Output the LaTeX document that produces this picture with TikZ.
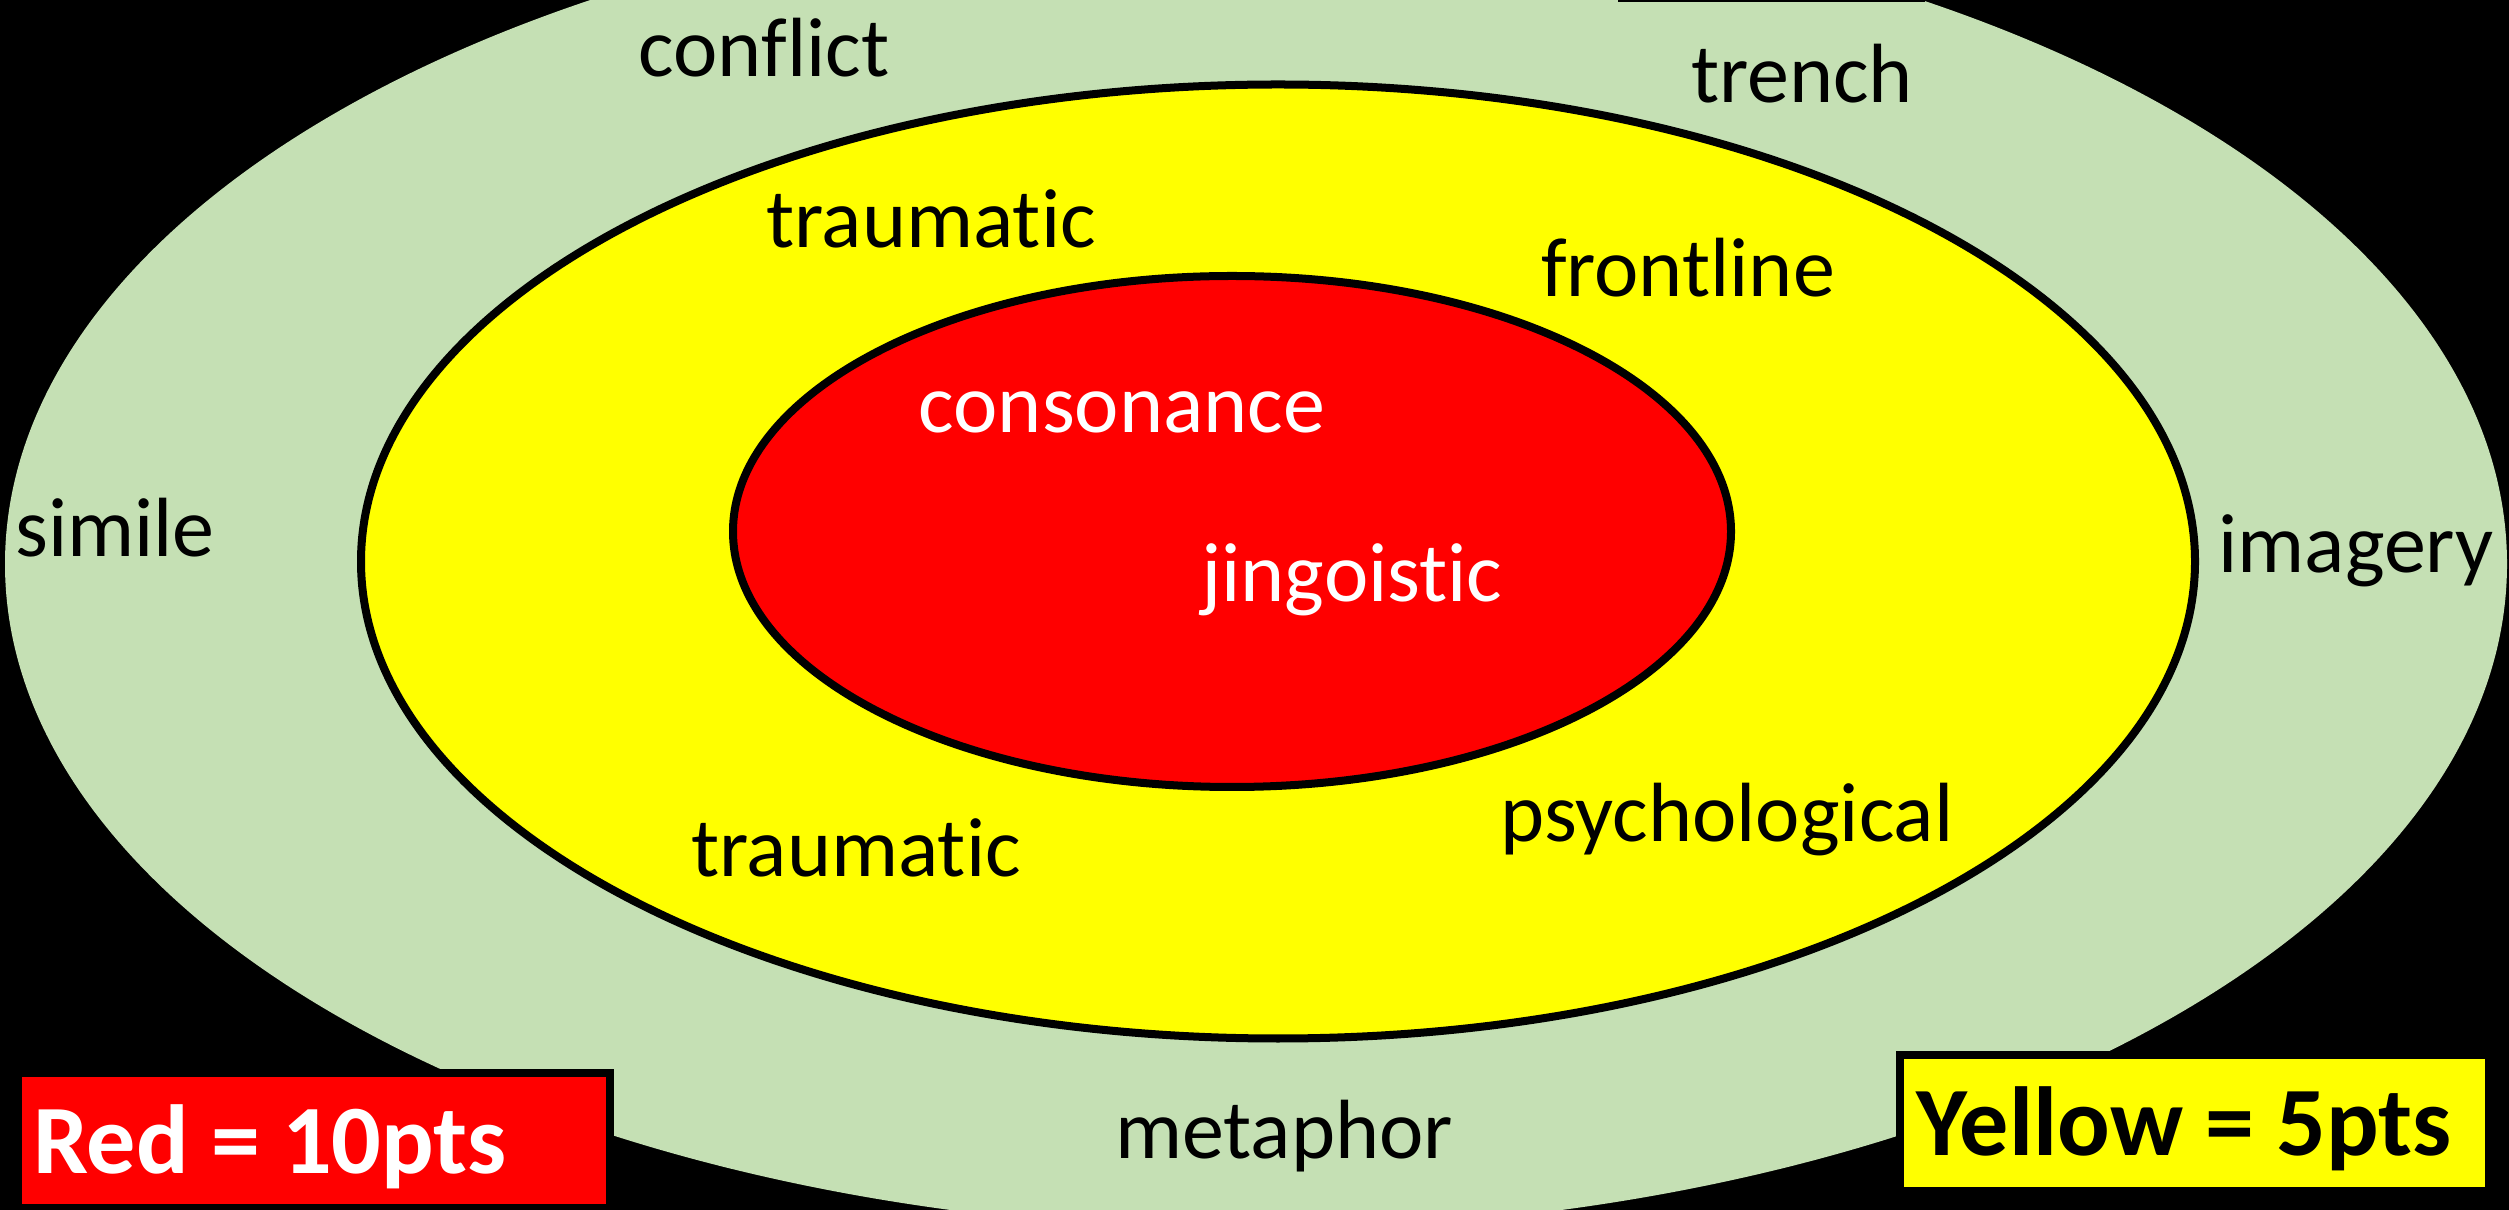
\documentclass[tikz,border=0pt]{standalone}
\usepackage{fontspec}
\setmainfont{Carlito}[Ligatures=NoCommon]
\definecolor{paleg}{HTML}{C5E0B4}
\definecolor{ylw}{HTML}{FFFF00}
\definecolor{rd}{HTML}{FF0000}
\begin{document}
\begin{tikzpicture}[x=0.01cm,y=-0.01cm,
  word/.style={anchor=base,inner sep=0pt,font=\fontsize{23.9pt}{28pt}\selectfont},
  legendtext/.style={anchor=base,inner sep=0pt,font=\fontsize{27.9pt}{32pt}\selectfont\bfseries},
  ring/.style={draw=black,line width=0.08cm}]
\useasboundingbox (0,0) rectangle (2509,1210);
\clip (0,0) rectangle (2509,1210);
\fill[black] (0,0) rectangle (2509,1210);
% rings
\fill[paleg] (1256,564) ellipse [x radius=1251, y radius=666];
\draw[ring,fill=ylw] (1278,561.5) ellipse [x radius=917, y radius=477];
\draw[ring,fill=rd] (1232,531.5) ellipse [x radius=499, y radius=255.5];
\fill[black] (1618,0) rectangle (1925,2);
% words
\node[word] (conflict) at (764,77) {conflict};
\node[word] (trench) at (1802,103) {trench};
\node[word] (simile) at (115,557) {simile};
\node[word] (imagery) at (2356,573) {imagery};
\node[word] (metaphor) at (1284,1158) {metaphor};
\node[word] (traumatictop) at (931,248) {traumatic};
\node[word] (frontline) at (1688,297) {frontline};
\node[word] (traumaticbot) at (856,877) {traumatic};
\node[word] (psychological) at (1727,842) {psychological};
\node[word,text=white] (consonance) at (1122,433) {consonance};
\node[word,text=white] (jingoistic) at (1352,602) {jingoistic};
% legend
\draw[ring,fill=rd] (18,1073) rectangle (610,1208);
\node[legendtext,text=white] (redlegend) at (270,1173) {Red = 10pts};
\draw[ring,fill=ylw] (1900,1055) rectangle (2489,1191);
\node[legendtext,text=black] (yellowlegend) at (2184,1155) {Yellow = 5pts};
\end{tikzpicture}
\end{document}
